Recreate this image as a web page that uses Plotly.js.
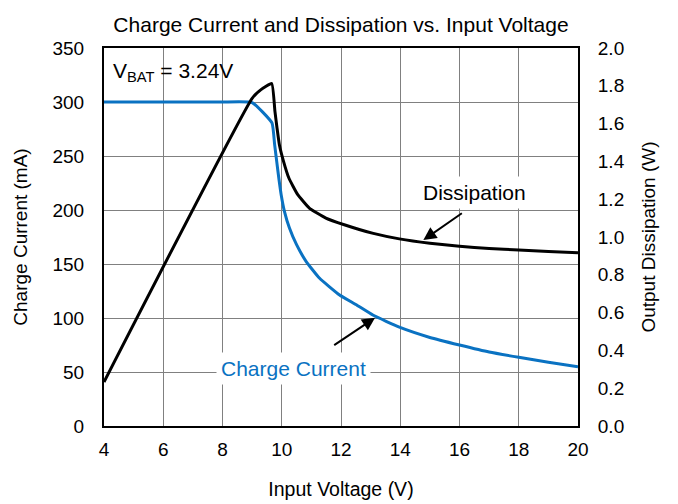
<!DOCTYPE html>
<html>
<head>
<meta charset="utf-8">
<script src="https://cdn.plot.ly/plotly-3.0.1.min.js"></script>
<style>html,body{margin:0;padding:0;background:#fff;}#chart{width:678px;height:504px;}</style>
</head>
<body>
<div id="chart"></div>
<script>
// Charge current (mA) vs input voltage (V)
const currentVoltage = [4, 5, 6, 7, 8, 9.0, 9.67, 9.76, 9.83, 9.9, 9.98, 10.09, 10.26, 10.5, 10.82, 11.27, 11.94, 12.5, 13.09, 13.97, 15, 16, 17, 18, 19, 20];
const chargeCurrent  = [300, 300, 300, 300, 300, 299.5, 280.6, 260.5, 245, 229.6, 214.2, 198.8, 183.3, 167.9, 152.5, 137, 121.6, 112.5, 102.5, 91.5, 82, 75, 68.5, 63.6, 59, 54.9];

// Output dissipation (W) vs input voltage (V)
const dissVoltage = [4, 9.0, 9.3, 9.66, 9.77, 9.84, 9.92, 10.06, 10.24, 10.54, 10.93, 11.49, 12.11, 13.09, 13.97, 15, 16, 17, 18, 19, 20];
const dissipation = [0.233, 1.734, 1.78, 1.812, 1.665, 1.577, 1.488, 1.40, 1.312, 1.224, 1.153, 1.10, 1.065, 1.019, 0.99, 0.967, 0.951, 0.939, 0.931, 0.923, 0.917];

const xTicks = [4, 6, 8, 10, 12, 14, 16, 18, 20];
const yTicks = [0, 50, 100, 150, 200, 250, 300, 350];
const y2Ticks = [0, 0.2, 0.4, 0.6, 0.8, 1.0, 1.2, 1.4, 1.6, 1.8, 2.0];

const FONT = "Arial, 'Liberation Sans', sans-serif";
const BLUE = '#0a72c2';

const traces = [
  {x: dissVoltage, y: dissipation, yaxis: 'y2', mode: 'lines',
   line: {color: '#000000', width: 3, shape: 'spline', smoothing: 0.4}, hoverinfo: 'skip'},
  {x: currentVoltage, y: chargeCurrent, mode: 'lines',
   line: {color: BLUE, width: 3, shape: 'spline', smoothing: 0.4}, hoverinfo: 'skip'}
];

const layout = {
  width: 678, height: 504,
  margin: {l: 104, r: 100, t: 48, b: 78},
  paper_bgcolor: '#fff', plot_bgcolor: '#fff',
  showlegend: false,
  font: {family: FONT, size: 19, color: '#000'},
  title: {text: 'Charge Current and Dissipation vs. Input Voltage', x: 0.5, xref: 'paper', y: 0.965, yref: 'container',
          font: {family: FONT, size: 21, color: '#000'}},
  xaxis: {
    range: [4, 20], tickvals: xTicks, ticktext: xTicks.map(String),
    showgrid: true, gridcolor: '#808080', gridwidth: 1,
    showline: true, linecolor: '#000', linewidth: 2, mirror: true,
    ticks: 'outside', ticklen: 5, tickcolor: 'rgba(0,0,0,0)',
    zeroline: false, tickfont: {size: 19},
    title: {text: 'Input Voltage (V)', font: {size: 19.5}, standoff: 24}
  },
  yaxis: {
    range: [0, 350], tickvals: yTicks, ticktext: yTicks.map(String),
    showgrid: true, gridcolor: '#808080', gridwidth: 1,
    showline: true, linecolor: '#000', linewidth: 2,
    ticks: 'outside', ticklen: 14, tickcolor: 'rgba(0,0,0,0)',
    zeroline: false, tickfont: {size: 19},
    title: {text: 'Charge Current (mA)', font: {size: 19}, standoff: 20}
  },
  yaxis2: {
    range: [0, 2.0], tickvals: y2Ticks, ticktext: y2Ticks.map(v => v.toFixed(1)),
    overlaying: 'y', side: 'right', showgrid: false,
    showline: true, linecolor: '#000', linewidth: 2,
    ticks: 'outside', ticklen: 14, tickcolor: 'rgba(0,0,0,0)',
    zeroline: false, tickfont: {size: 19},
    title: {text: 'Output Dissipation (W)', font: {size: 19}, standoff: 18}
  },
  annotations: [
    {xref: 'paper', yref: 'paper', x: 0.015, y: 0.9365, xanchor: 'left', yanchor: 'middle',
     text: 'V<sub>BAT</sub> = 3.24V', showarrow: false, font: {size: 21, color: '#000'}},
    {xref: 'x', yref: 'y2', x: 16.52, y: 1.233, text: 'Dissipation', showarrow: false,
     bgcolor: '#fff', borderpad: 4, font: {size: 21, color: '#000'}},
    {xref: 'x', yref: 'y2', x: 14.78, y: 0.984, axref: 'x', ayref: 'y2', ax: 16.13, ay: 1.131,
     text: '', showarrow: true, arrowhead: 2, arrowsize: 1.3, arrowwidth: 2, arrowcolor: '#000'},
    {xref: 'x', yref: 'y', x: 10.41, y: 53.7, text: 'Charge Current', showarrow: false,
     bgcolor: '#fff', borderpad: 4, font: {size: 21, color: BLUE}},
    {xref: 'x', yref: 'y', x: 13.15, y: 100.3, axref: 'x', ayref: 'y', ax: 11.72, ay: 74,
     text: '', showarrow: true, arrowhead: 2, arrowsize: 1.3, arrowwidth: 2, arrowcolor: '#000'}
  ]
};

Plotly.newPlot('chart', traces, layout, {staticPlot: true, displayModeBar: false});
</script>
</body>
</html>
